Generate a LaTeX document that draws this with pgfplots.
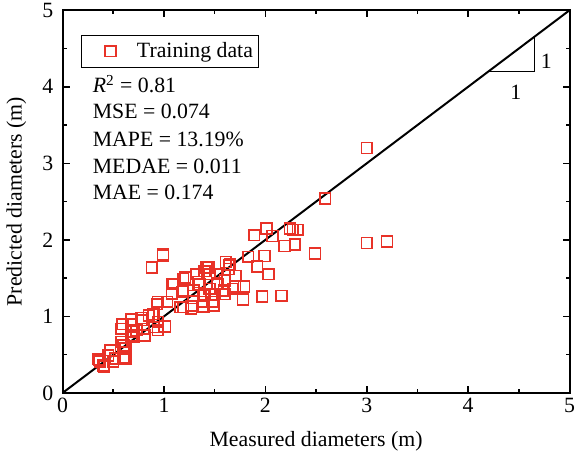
\documentclass[border=0pt]{standalone}
\usepackage{pgfplots}
\pgfplotsset{compat=1.18}
\usepackage{fontspec}
\setmainfont{Liberation Serif}
\definecolor{mred}{RGB}{232,50,40}
\begin{document}
\begin{tikzpicture}
\begin{axis}[
  scale only axis, width=255bp, height=192.5bp,
  xmin=0, xmax=5, ymin=0, ymax=5,
  xtick={0,1,2,3,4,5}, ytick={0,1,2,3,4,5},
  minor tick num=1,
  tick align=inside,
  major tick length=3.5bp, minor tick length=2bp,
  axis line style={line width=1bp},
  every tick/.style={line width=0.8bp, black},
  tick label style={font=\fontsize{11}{13}\selectfont},
  xticklabel style={inner xsep=0bp, inner ysep=2.5bp},
  yticklabel style={inner xsep=4.5bp, inner ysep=1.5bp},
  /pgf/number format/assume math mode=true,
  xlabel={Measured diameters (m)}, ylabel={Predicted diameters (m)},
  label style={font=\fontsize{11}{13}\selectfont},
  xlabel style={yshift=-3bp},
  legend style={at={(0.037,0.935)}, anchor=north west, draw=black, line width=0.5bp,
    font=\fontsize{11}{13}\selectfont, inner xsep=1bp, inner ysep=1.5bp, outer sep=0pt},
  legend cell align=left,
  legend image code/.code={\path (0bp,0bp) (24.5bp,0bp); \draw[mark repeat=2,mark phase=2,#1] plot coordinates {(0bp,0bp)(13.5bp,0bp)(24.5bp,0bp)};},
]
\addplot[only marks, color=mred, mark=square, mark size=2.7bp, mark options={draw=mred, fill=none, line width=0.8bp}] table {
x y
0.36 0.43
0.40 0.36
0.37 0.41
0.35 0.44
0.41 0.34
0.45 0.49
0.50 0.41
0.47 0.56
0.52 0.45
0.62 0.45
0.60 0.47
0.62 0.58
0.60 0.62
0.58 0.67
0.68 0.75
0.70 0.73
0.58 0.84
0.59 0.90
0.68 0.90
0.78 0.95
0.73 0.82
0.70 0.80
0.81 0.75
0.80 0.84
0.90 0.86
0.94 0.82
1.01 0.87
0.90 1.03
0.85 1.01
0.94 0.93
0.89 1.03
0.68 0.96
0.78 0.98
0.93 1.16
1.03 1.19
0.94 1.19
1.09 1.42
1.08 1.30
1.08 1.42
1.19 1.49
1.21 1.51
1.18 1.32
1.19 1.34
1.19 1.12
1.16 1.12
1.27 1.14
1.27 1.10
1.29 1.27
1.29 1.34
1.32 1.55
1.34 1.42
1.34 1.45
1.35 1.42
1.39 1.27
1.39 1.19
1.39 1.13
1.40 1.29
1.40 1.59
1.42 1.64
1.44 1.64
1.45 1.55
1.45 1.36
1.47 1.29
1.48 1.19
1.49 1.14
1.50 1.29
1.52 1.43
1.52 1.55
1.53 1.42
1.59 1.34
1.60 1.47
1.60 1.29
1.61 1.71
1.64 1.67
1.65 1.68
1.64 1.62
1.68 1.36
1.70 1.53
1.71 1.53
1.70 1.39
1.78 1.22
1.79 1.39
1.83 1.78
1.92 1.65
1.99 1.79
2.03 1.55
1.97 1.26
2.16 1.27
1.89 2.06
2.01 2.15
2.07 2.05
2.24 2.15
2.27 2.13
2.32 2.13
2.19 1.92
2.29 1.94
2.49 1.82
2.59 2.54
3.00 3.20
3.00 1.96
3.20 1.98
0.99 1.79
0.88 1.64
0.99 1.81
};
\addlegendentry{Training data}
\addplot[black, line width=1bp, forget plot] coordinates {(0,0) (5,5)};
\draw[line width=0.5bp] (axis cs:4.2,4.2) -- (axis cs:4.65,4.2) -- (axis cs:4.65,4.65);
\node[font=\fontsize{11}{13}\selectfont] at (axis cs:4.47,3.93) {1};
\node[font=\fontsize{11}{13}\selectfont] at (axis cs:4.77,4.33) {1};
\node[anchor=base west, font=\fontsize{11}{13}\selectfont] at (axis cs:0.23,3.92) {\textit{R}\textsuperscript{2} = 0.81};
\node[anchor=base west, font=\fontsize{11}{13}\selectfont] at (axis cs:0.23,3.58) {MSE = 0.074};
\node[anchor=base west, font=\fontsize{11}{13}\selectfont] at (axis cs:0.23,3.22) {MAPE = 13.19\%};
\node[anchor=base west, font=\fontsize{11}{13}\selectfont] at (axis cs:0.23,2.87) {MEDAE = 0.011};
\node[anchor=base west, font=\fontsize{11}{13}\selectfont] at (axis cs:0.23,2.53) {MAE = 0.174};
\end{axis}
\end{tikzpicture}
\end{document}
